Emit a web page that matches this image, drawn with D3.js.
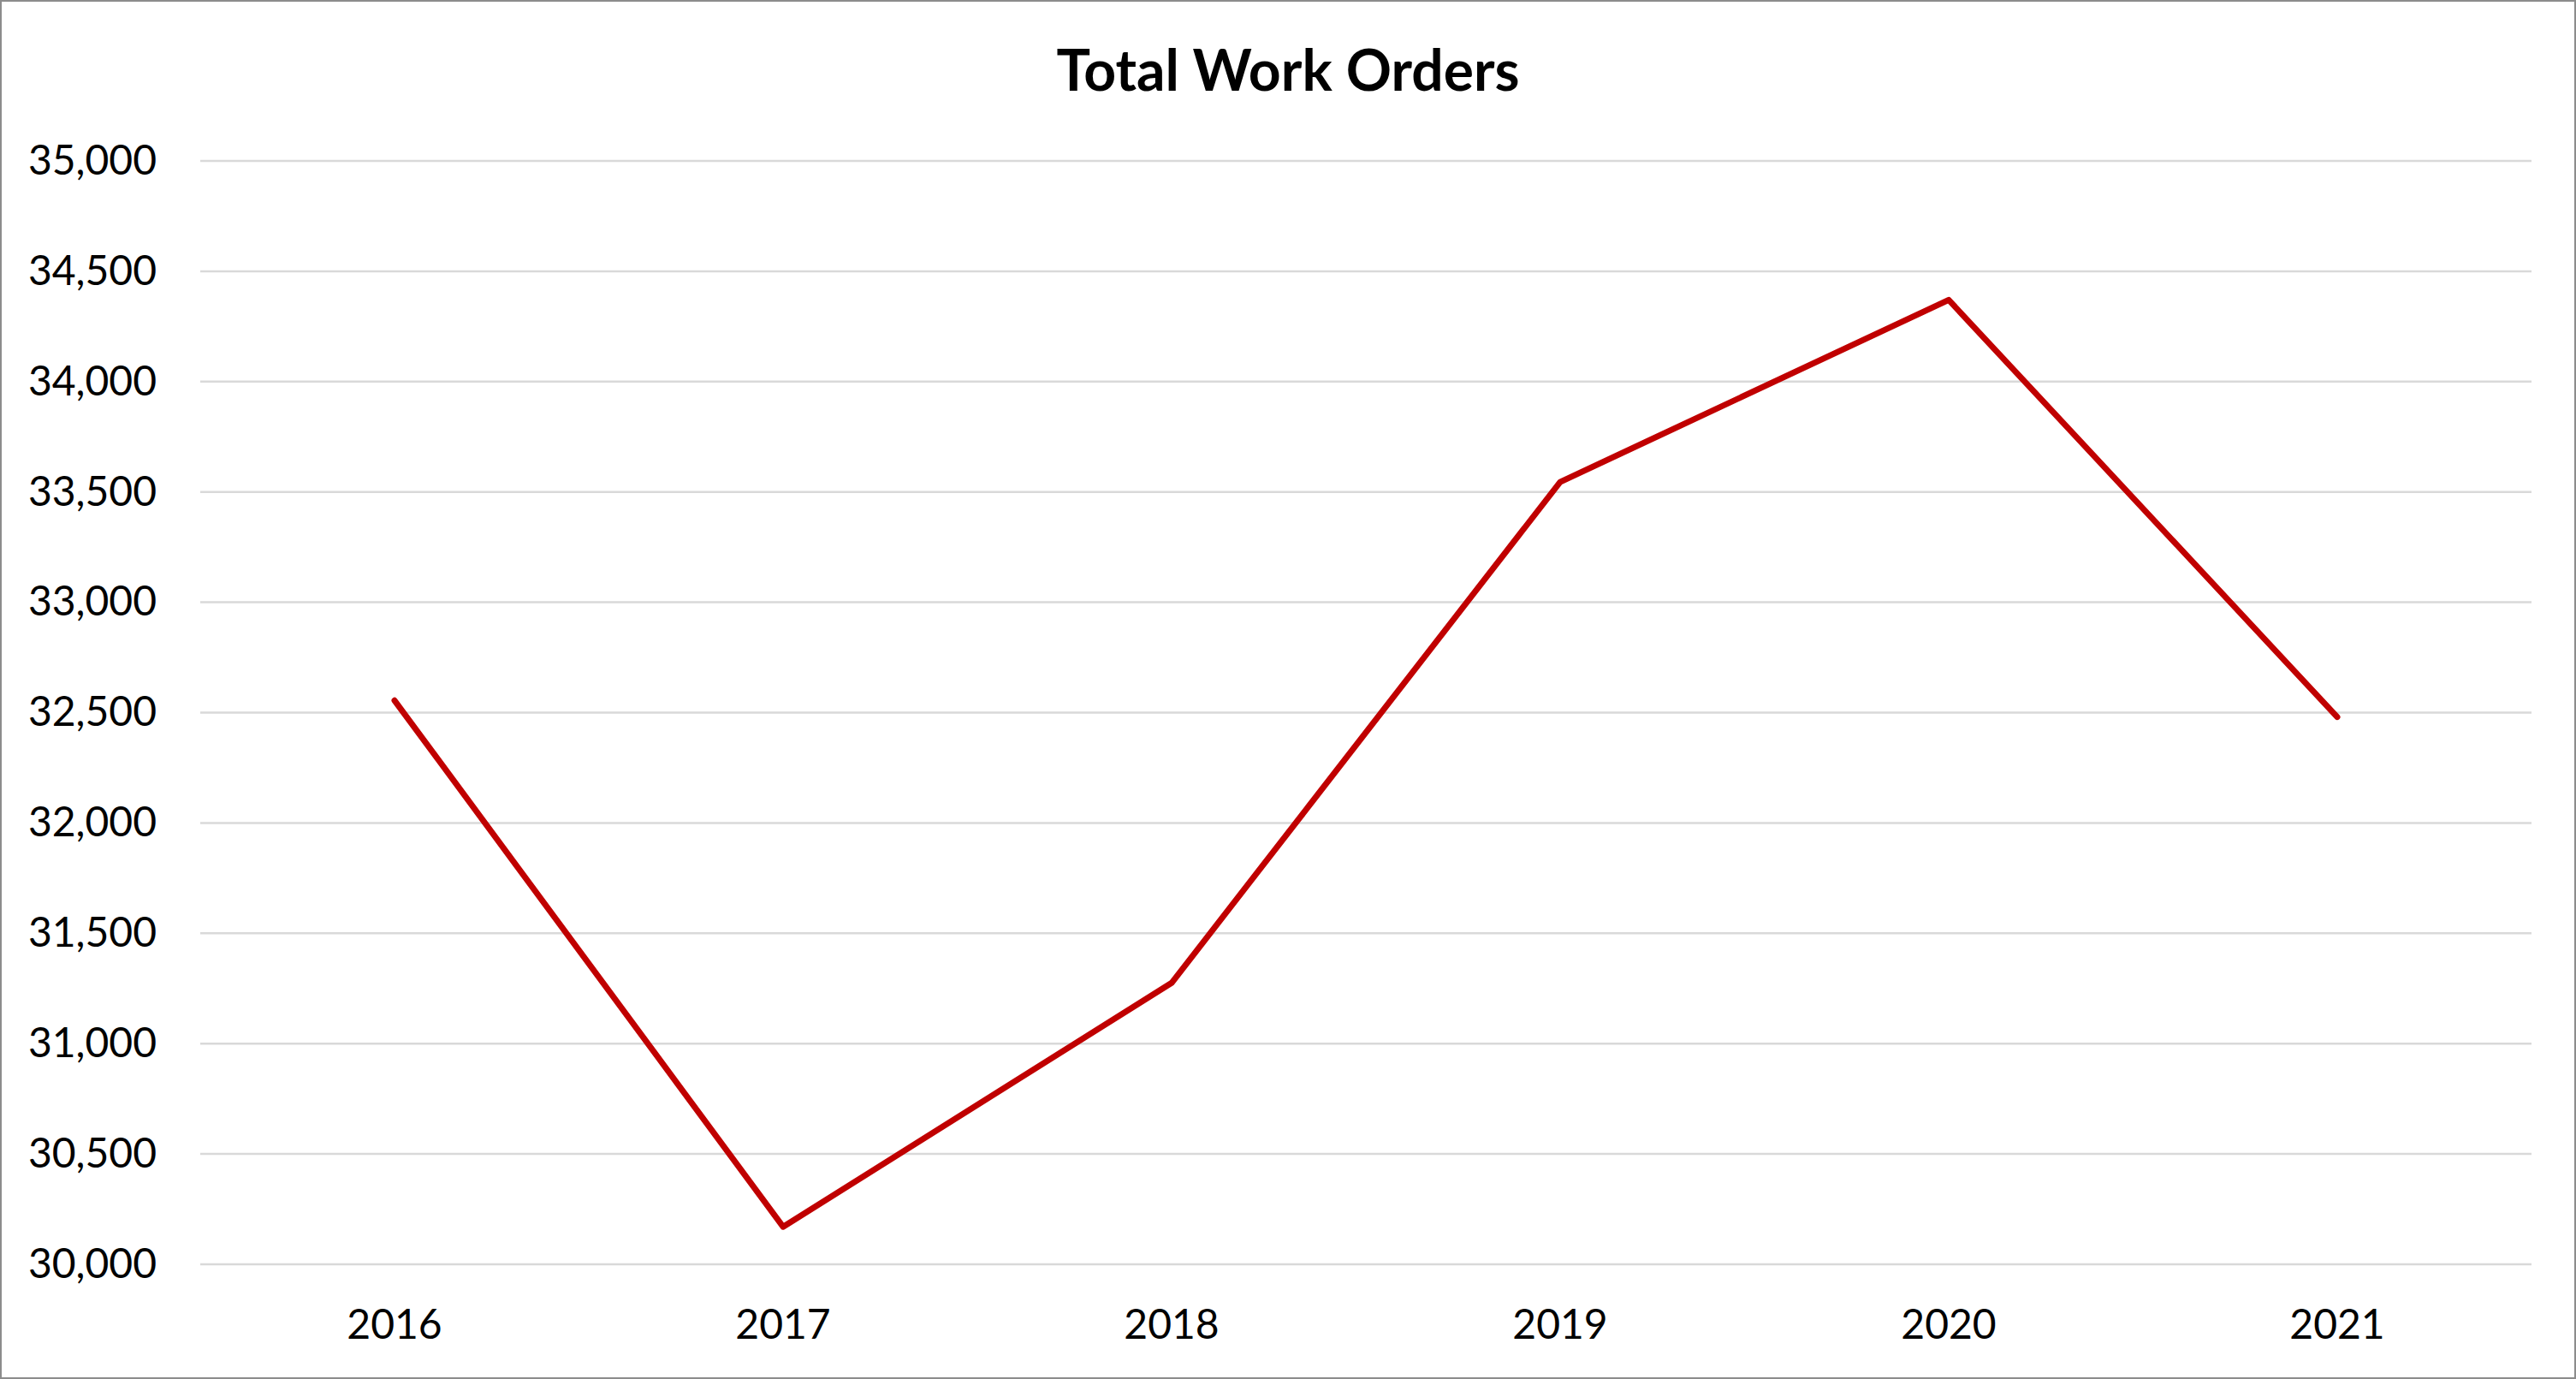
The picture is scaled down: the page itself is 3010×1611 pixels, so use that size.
<!DOCTYPE html>
<html>
<head>
<meta charset="utf-8">
<script src="https://cdn.jsdelivr.net/npm/d3@7"></script>
<style>
  html, body { margin: 0; padding: 0; background: #fff; }
  svg { display: block; }
</style>
</head>
<body>
<svg id="chart"></svg>
<script>
const title = 'Total Work Orders';
const years = ['2016', '2017', '2018', '2019', '2020', '2021'];
const workOrders = [32555, 30170, 31275, 33545, 34370, 32480];
const yTicks = [30000, 30500, 31000, 31500, 32000, 32500, 33000, 33500, 34000, 34500, 35000];

const width = 3010;
const height = 1611;
const plot = { left: 234, right: 2958, top: 188, bottom: 1477 };
const font = 'Lato, "Open Sans", sans-serif';

const svg = d3.select('#chart').attr('width', width).attr('height', height);

svg.append('rect')
  .attr('x', 1).attr('y', 1)
  .attr('width', width - 2).attr('height', height - 2)
  .attr('fill', '#fff')
  .attr('stroke', '#8c8c8c')
  .attr('stroke-width', 2);

const x = d3.scaleBand().domain(years).range([plot.left, plot.right]);
const y = d3.scaleLinear().domain([30000, 35000]).range([plot.bottom, plot.top]);

// gridlines
svg.append('g')
  .selectAll('line')
  .data(yTicks)
  .join('line')
  .attr('x1', plot.left)
  .attr('x2', plot.right)
  .attr('y1', (d) => y(d))
  .attr('y2', (d) => y(d))
  .attr('stroke', '#d9d9d9')
  .attr('stroke-width', 2.5);

// y axis labels
const yAxis = svg.append('g')
  .attr('transform', `translate(${plot.left},0)`)
  .call(d3.axisLeft(y).tickValues(yTicks).tickFormat(d3.format(',')).tickSize(0).tickPadding(51));
yAxis.select('.domain').remove();
yAxis.selectAll('text')
  .attr('font-family', font)
  .attr('font-size', 48)
  .attr('fill', '#000')
  .attr('dy', '0.32em');

// x axis labels
const xAxis = svg.append('g')
  .attr('transform', `translate(0,${plot.bottom})`)
  .call(d3.axisBottom(x).tickSize(0).tickPadding(53));
xAxis.select('.domain').remove();
xAxis.selectAll('text')
  .attr('font-family', font)
  .attr('font-size', 48)
  .attr('fill', '#000');

// line
const line = d3.line()
  .x((d, i) => x(years[i]) + x.bandwidth() / 2)
  .y((d) => y(d));

svg.append('path')
  .datum(workOrders)
  .attr('d', line)
  .attr('fill', 'none')
  .attr('stroke', '#c00000')
  .attr('stroke-width', 7)
  .attr('stroke-linecap', 'round')
  .attr('stroke-linejoin', 'round');

// title
svg.append('text')
  .attr('x', width / 2)
  .attr('y', 106)
  .attr('text-anchor', 'middle')
  .attr('font-family', font)
  .attr('font-weight', 700)
  .attr('font-size', 66)
  .attr('fill', '#000')
  .text(title);
</script>
</body>
</html>
